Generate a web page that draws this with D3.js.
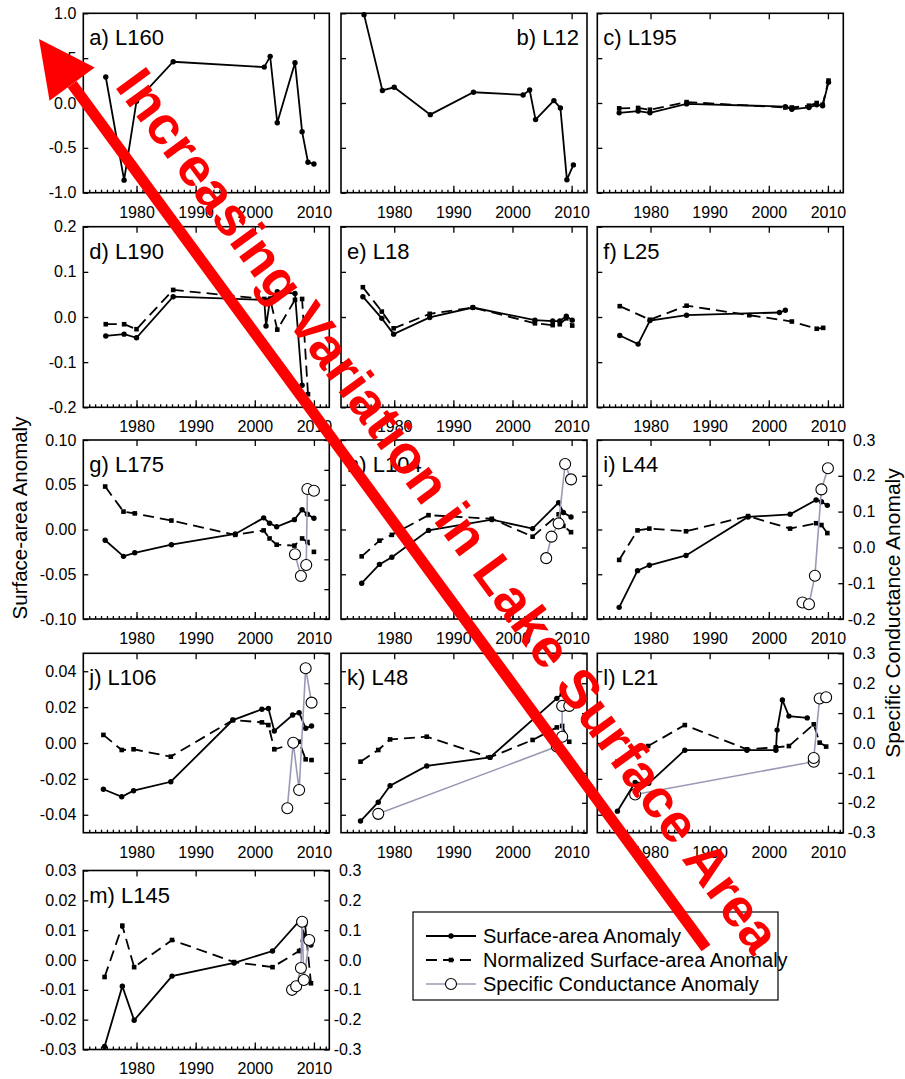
<!DOCTYPE html>
<html>
<head>
<meta charset="utf-8">
<script src="https://cdn.jsdelivr.net/npm/d3@7"></script>
<style>
  body { margin: 0; background: #fff; }
  text { font-family: "Liberation Sans", Arial, sans-serif; }
</style>
</head>
<body>
<div id="chart"></div>
<script>
// ---- data ----
const xTicks = [1980, 1990, 2000, 2010];

// a) L160
const aYears = [1974.8, 1977.9, 1980.0, 1986.2, 2001.6, 2002.6, 2003.8, 2006.8, 2008.0, 2009.0, 2010.0];
const aArea  = [0.29, -0.86, 0.02, 0.46, 0.40, 0.52, -0.22, 0.45, -0.32, -0.66, -0.68];
// b) L12
const bYears = [1974.9, 1978.0, 1980.0, 1986.1, 1993.4, 2001.8, 2002.9, 2003.9, 2007.0, 2008.1, 2009.2, 2010.3];
const bArea  = [0.985, 0.14, 0.175, -0.13, 0.12, 0.09, 0.145, -0.185, 0.027, -0.055, -0.855, -0.69];
// c) L195
const cYears = [1974.7, 1977.9, 1979.9, 1986.1, 2002.8, 2003.9, 2006.8, 2008.1, 2009.1, 2010.1];
const cArea  = [-0.11, -0.09, -0.11, -0.01, -0.04, -0.07, -0.05, -0.02, -0.03, 0.23];
const cNorm  = [-0.06, -0.055, -0.075, 0.01, -0.05, -0.05, -0.03, 0.0, -0.02, 0.25];
// d) L190
const dAreaYears = [1974.8, 1977.9, 1980.0, 1986.2, 2001.6, 2001.9, 2002.6, 2003.8, 2006.8, 2008.0];
const dArea      = [-0.042, -0.038, -0.046, 0.045, 0.038, -0.02, 0.04, 0.056, 0.052, -0.151];
const dNormYears = [1974.8, 1977.9, 1980.0, 1986.2, 2001.6, 2002.6, 2003.8, 2006.8, 2008.0, 2009.0];
const dNorm      = [-0.016, -0.016, -0.027, 0.06, 0.04, 0.04, -0.028, 0.038, 0.04, -0.171];
// e) L18
const eYears = [1974.7, 1977.9, 1979.9, 1986.0, 1993.3, 2003.8, 2006.8, 2008.0, 2009.1, 2010.1];
const eArea  = [0.045, -0.003, -0.038, -0.001, 0.021, -0.007, -0.009, -0.009, 0.002, -0.007];
const eNorm  = [0.066, 0.012, -0.025, 0.007, 0.021, -0.014, -0.018, -0.016, -0.003, -0.019];
// f) L25
const fAreaYears = [1974.8, 1977.9, 1979.9, 1986.1, 2001.8, 2002.8];
const fArea      = [-0.041, -0.06, -0.008, 0.004, 0.010, 0.015];
const fNormYears = [1974.8, 1979.9, 1986.1, 1996.7, 2003.9, 2008.1, 2009.2];
const fNorm      = [0.024, -0.006, 0.025, 0.004, -0.01, -0.026, -0.024];
// g) L175
const gYears = [1974.7, 1977.8, 1979.7, 1985.9, 1996.7, 2001.5, 2002.5, 2003.7, 2006.7, 2008.0, 2008.9, 2010.0];
const gArea  = [-0.012, -0.030, -0.026, -0.017, -0.005, 0.013, 0.007, 0.003, 0.011, 0.022, 0.017, 0.0125];
const gNorm  = [0.048, 0.020, 0.018, 0.010, -0.006, -0.001, -0.010, -0.017, -0.018, -0.010, -0.014, -0.025];
const gCondYears = [2006.8, 2007.8, 2008.7, 2008.9, 2010.0];
const gCond      = [-0.083, -0.156, -0.119, 0.136, 0.13];
// h) L104
const hYears = [1974.5, 1977.5, 1979.6, 1985.8, 1996.5, 2003.4, 2007.8, 2008.6, 2009.9];
const hArea  = [-0.060, -0.039, -0.031, -0.001, 0.011, 0.001, 0.030, 0.019, 0.014];
const hNorm  = [-0.030, -0.0125, -0.006, 0.016, 0.012, -0.008, 0.017, 0.004, -0.003];
const hCondYears = [2005.7, 2006.6, 2007.8, 2008.9, 2009.9];
const hCond      = [-0.030, 0.030, 0.067, 0.233, 0.19];
// i) L44
const iYears = [1974.7, 1977.8, 1979.8, 1986.0, 1996.5, 2003.6, 2008.0, 2008.9, 2009.9];
const iArea  = [-0.087, -0.046, -0.040, -0.029, 0.014, 0.017, 0.033, 0.031, 0.027];
const iNorm  = [-0.034, -0.001, 0.001, -0.002, 0.015, 0.001, 0.007, 0.005, -0.004];
const iCondYears = [2005.7, 2006.8, 2007.8, 2008.9, 2010.0];
const iCond      = [-0.154, -0.159, -0.079, 0.162, 0.221];
// j) L106
const jYears = [1974.4, 1977.5, 1979.5, 1985.8, 1996.3, 2001.2, 2002.3, 2003.3, 2006.4, 2007.5, 2008.6, 2009.6];
const jArea  = [-0.0258, -0.030, -0.0266, -0.0216, 0.0128, 0.0188, 0.0193, 0.0067, 0.0156, 0.0169, 0.0082, 0.0095];
const jNorm  = [0.0045, -0.0039, -0.0035, -0.0076, 0.0128, 0.0115, 0.010, -0.0035, -0.0006, 0.0007, -0.0091, -0.0095];
const jCondYears = [2005.5, 2006.5, 2007.5, 2008.6, 2009.6];
const jCond      = [-0.218, 0.001, -0.157, 0.25, 0.135];
// k) L48
const kAreaYears = [1974.3, 1977.3, 1979.3, 1985.5, 1996.2, 2007.5, 2008.4];
const kArea      = [-0.0435, -0.033, -0.0238, -0.0128, -0.008, 0.0249, 0.0273];
const kNormYears = [1974.3, 1977.3, 1979.3, 1985.5, 1996.2, 2003.4, 2007.5, 2008.4, 2009.6];
const kNorm      = [-0.0104, -0.0039, 0.002, 0.0035, -0.008, 0.0017, 0.0087, 0.0095, 0.0007];
const kCondYears = [1977.3, 2007.5, 2008.4, 2008.4, 2009.6];
const kCond      = [-0.237, -0.012, 0.021, 0.124, 0.124];
// l) L21
const lAreaYears = [1974.4, 1977.4, 1979.7, 1985.8, 1996.3, 2001.2, 2001.4, 2002.3, 2003.4, 2006.5];
const lArea      = [-0.038, -0.022, -0.0225, -0.004, -0.004, -0.004, 0.0072, 0.024, 0.015, 0.014];
const lNormYears = [1974.4, 1979.6, 1985.8, 1996.3, 2001.2, 2003.4, 2007.6, 2008.6, 2009.7];
const lNorm      = [-0.0104, -0.0017, 0.010, -0.0035, -0.0024, -0.0017, 0.0104, 0.0002, -0.002];
const lCondYears = [1977.4, 2007.6, 2007.6, 2008.6, 2009.7];
const lCond      = [-0.172, -0.0625, -0.05, 0.149, 0.153];
// m) L145
const mYears = [1974.6, 1977.6, 1979.6, 1986.0, 1996.5, 2003.0, 2007.5, 2008.5, 2009.5];
const mArea  = [-0.029, -0.0088, -0.0202, -0.0054, -0.001, 0.003, 0.013, 0.008, 0.005];
const mNorm  = [-0.0057, 0.0115, -0.0024, 0.0067, -0.0007, -0.0024, 0.003, 0.012, -0.0078];
const mCondYears = [2006.3, 2007.0, 2007.8, 2008.0, 2008.3, 2009.2];
const mCond      = [-0.10, -0.088, -0.027, 0.128, -0.067, 0.067];

const legendLabels = ["Surface-area Anomaly", "Normalized Surface-area Anomaly", "Specific Conductance Anomaly"];
const arrowText = "Increasing Variation in Lake Surface Area";

// ---- layout ----
const W = 905, H = 1079;
const colLeft = [83.3, 341, 597.3];
const panelW = 246;
const rows = [
  {top: 13.3,  bottom: 192.7,  dom: [-1, 1],       ticks: [-1, -0.5, 0, 0.5, 1],             dec: 1},
  {top: 226.7, bottom: 407.3,  dom: [-0.2, 0.2],   ticks: [-0.2, -0.1, 0, 0.1, 0.2],         dec: 1},
  {top: 440,   bottom: 619,    dom: [-0.1, 0.1],   ticks: [-0.1, -0.05, 0, 0.05, 0.1],       dec: 2},
  {top: 653.3, bottom: 832.7,  dom: [-0.05, 0.05], ticks: [-0.04, -0.02, 0, 0.02, 0.04],     dec: 2},
  {top: 870.5, bottom: 1049.5, dom: [-0.03, 0.03], ticks: [-0.03, -0.02, -0.01, 0, 0.01, 0.02, 0.03], dec: 2}
];
const condFull = {dom: [-0.3, 0.3], ticks: [-0.3, -0.2, -0.1, 0, 0.1, 0.2, 0.3]};
const condRow3 = {dom: [-0.2, 0.3], ticks: [-0.2, -0.1, 0, 0.1, 0.2, 0.3]};

const panels = [
  {label: "a) L160", row: 0, col: 0, leftLabels: true, area: [aYears, aArea]},
  {label: "b) L12",  row: 0, col: 1, labelRight: true, area: [bYears, bArea]},
  {label: "c) L195", row: 0, col: 2, area: [cYears, cArea], norm: [cYears, cNorm]},
  {label: "d) L190", row: 1, col: 0, leftLabels: true, area: [dAreaYears, dArea], norm: [dNormYears, dNorm]},
  {label: "e) L18",  row: 1, col: 1, area: [eYears, eArea], norm: [eYears, eNorm]},
  {label: "f) L25",  row: 1, col: 2, area: [fAreaYears, fArea], norm: [fNormYears, fNorm]},
  {label: "g) L175", row: 2, col: 0, leftLabels: true, area: [gYears, gArea], norm: [gYears, gNorm], cond: [gCondYears, gCond], condAxis: condFull},
  {label: "h) L104", row: 2, col: 1, area: [hYears, hArea], norm: [hYears, hNorm], cond: [hCondYears, hCond], condAxis: condRow3},
  {label: "i) L44",  row: 2, col: 2, area: [iYears, iArea], norm: [iYears, iNorm], cond: [iCondYears, iCond], condAxis: condRow3, rightLabels: true},
  {label: "j) L106", row: 3, col: 0, leftLabels: true, area: [jYears, jArea], norm: [jYears, jNorm], cond: [jCondYears, jCond], condAxis: condFull},
  {label: "k) L48",  row: 3, col: 1, area: [kAreaYears, kArea], norm: [kNormYears, kNorm], cond: [kCondYears, kCond], condAxis: condFull},
  {label: "l) L21",  row: 3, col: 2, area: [lAreaYears, lArea], norm: [lNormYears, lNorm], cond: [lCondYears, lCond], condAxis: condFull, rightLabels: true},
  {label: "m) L145", row: 4, col: 0, leftLabels: true, area: [mYears, mArea], norm: [mYears, mNorm], cond: [mCondYears, mCond], condAxis: condFull, rightLabels: true}
];

const condColor = "#9a9ab6";

const svg = d3.select("#chart").append("svg")
  .attr("width", W).attr("height", H)
  .style("background", "#fff");

function fmt(dec) {
  return v => d3.format("." + dec + "f")(v).replace("\u2212", "-");
}

function drawPanel(p) {
  const r = rows[p.row];
  const left = colLeft[p.col];
  const x = d3.scaleLinear().domain([1971, 2012.6]).range([left, left + panelW]);
  const y = d3.scaleLinear().domain(r.dom).range([r.bottom, r.top]);
  const g = svg.append("g");

  // bottom: major ticks with labels, minor ticks every year
  const bottom = g.append("g").attr("transform", "translate(0," + r.bottom + ")");
  bottom.call(d3.axisBottom(x).tickValues(d3.range(1972, 2013)).tickSize(-3).tickFormat(""));
  bottom.append("g").call(d3.axisBottom(x).tickValues(xTicks).tickSize(-7).tickPadding(13.5).tickFormat(d3.format("d")));
  // top: major ticks only
  g.append("g").attr("transform", "translate(0," + r.top + ")")
    .call(d3.axisTop(x).tickValues(xTicks).tickSize(-6).tickFormat(""));
  // left
  g.append("g").attr("transform", "translate(" + left + ",0)")
    .call(d3.axisLeft(y).tickValues(r.ticks).tickSize(-5).tickPadding(7)
      .tickFormat(p.leftLabels ? fmt(r.dec) : ""));

  let y2 = null;
  if (p.condAxis) {
    y2 = d3.scaleLinear().domain(p.condAxis.dom).range([r.bottom, r.top]);
    const ra = g.append("g").attr("transform", "translate(" + (left + panelW) + ",0)")
      .call(d3.axisRight(y2).tickValues(p.condAxis.ticks).tickSize(-5).tickPadding(7)
        .tickFormat(p.rightLabels ? fmt(1) : ""));
    ra.selectAll("text").attr("text-anchor", "end").attr("x", 32);
  }

  g.selectAll(".domain").remove();
  g.selectAll(".tick line").attr("stroke", "#000").attr("stroke-width", 1.3);
  g.selectAll(".tick text").attr("fill", "#000").style("font-size", "16px");

  // frame
  g.append("rect")
    .attr("x", left).attr("y", r.top)
    .attr("width", panelW).attr("height", r.bottom - r.top)
    .attr("fill", "none").attr("stroke", "#000").attr("stroke-width", 1.6);

  const line = d3.line().x(d => x(d[0])).y(d => y(d[1]));

  if (p.norm) {
    const pts = d3.zip(p.norm[0], p.norm[1]);
    g.append("path").datum(pts).attr("d", line)
      .attr("fill", "none").attr("stroke", "#000").attr("stroke-width", 1.8)
      .attr("stroke-dasharray", "11,6");
    g.selectAll(null).data(pts).enter().append("rect")
      .attr("x", d => x(d[0]) - 2.3).attr("y", d => y(d[1]) - 2.3)
      .attr("width", 4.6).attr("height", 4.6).attr("fill", "#000");
  }
  if (p.area) {
    const pts = d3.zip(p.area[0], p.area[1]);
    g.append("path").datum(pts).attr("d", line)
      .attr("fill", "none").attr("stroke", "#000").attr("stroke-width", 1.8);
    g.selectAll(null).data(pts).enter().append("circle")
      .attr("cx", d => x(d[0])).attr("cy", d => y(d[1])).attr("r", 2.7).attr("fill", "#000");
  }
  if (p.cond) {
    const pts = d3.zip(p.cond[0], p.cond[1]);
    const line2 = d3.line().x(d => x(d[0])).y(d => y2(d[1]));
    g.append("path").datum(pts).attr("d", line2)
      .attr("fill", "none").attr("stroke", condColor).attr("stroke-width", 1.6);
    g.selectAll(null).data(pts).enter().append("circle")
      .attr("cx", d => x(d[0])).attr("cy", d => y2(d[1])).attr("r", 5.5)
      .attr("fill", "#fff").attr("stroke", "#000").attr("stroke-width", 1.1);
  }

  // panel label
  g.append("text")
    .attr("x", p.labelRight ? left + panelW - 8 : left + 6)
    .attr("y", r.top + 32)
    .attr("text-anchor", p.labelRight ? "end" : "start")
    .style("font-size", "22px")
    .text(p.label);
}

panels.forEach(drawPanel);

// axis titles
svg.append("text")
  .attr("transform", "translate(27,518) rotate(-90)")
  .attr("text-anchor", "middle")
  .style("font-size", "20.5px")
  .text("Surface-area Anomaly");
svg.append("text")
  .attr("transform", "translate(900,613) rotate(-90)")
  .attr("text-anchor", "middle")
  .style("font-size", "21px")
  .text("Specific Conductance Anomaly");

// legend
const lg = svg.append("g").attr("transform", "translate(413,912)");
lg.append("rect").attr("width", 365).attr("height", 88)
  .attr("fill", "#fff").attr("stroke", "#000").attr("stroke-width", 1.2);
legendLabels.forEach((lab, i) => {
  const ly = 24 + i * 24;
  const row = lg.append("g").attr("transform", "translate(0," + ly + ")");
  if (i === 0) {
    row.append("line").attr("x1", 13).attr("x2", 63).attr("stroke", "#000").attr("stroke-width", 1.8);
    row.append("circle").attr("cx", 38).attr("r", 2.7).attr("fill", "#000");
  } else if (i === 1) {
    row.append("line").attr("x1", 13).attr("x2", 63).attr("stroke", "#000").attr("stroke-width", 1.8)
      .attr("stroke-dasharray", "11,6");
    row.append("rect").attr("x", 35.7).attr("y", -2.3).attr("width", 4.6).attr("height", 4.6).attr("fill", "#000");
  } else {
    row.append("line").attr("x1", 13).attr("x2", 63).attr("stroke", condColor).attr("stroke-width", 1.6);
    row.append("circle").attr("cx", 38).attr("r", 5.5).attr("fill", "#fff").attr("stroke", "#000").attr("stroke-width", 1.1);
  }
  row.append("text").attr("x", 70).attr("y", 7).style("font-size", "20px").text(lab);
});

// red annotation arrow
const tip = [39, 39], tail = [706, 948];
const ang = Math.atan2(tail[1] - tip[1], tail[0] - tip[0]);
const ux = Math.cos(ang), uy = Math.sin(ang);
const headLen = 56, headHalf = 28;
const base = [tip[0] + ux * headLen, tip[1] + uy * headLen];
svg.append("line")
  .attr("x1", base[0]).attr("y1", base[1]).attr("x2", tail[0]).attr("y2", tail[1])
  .attr("stroke", "#ff0000").attr("stroke-width", 11);
svg.append("polygon")
  .attr("points", [
    tip,
    [base[0] - uy * headHalf, base[1] + ux * headHalf],
    [base[0] + uy * headHalf, base[1] - ux * headHalf]
  ].map(p => p.join(",")).join(" "))
  .attr("fill", "#ff0000");
svg.append("text")
  .attr("transform", "translate(114,86) rotate(" + (ang * 180 / Math.PI) + ")")
  .attr("textLength", 1080).attr("lengthAdjust", "spacing")
  .style("font-size", "54px").style("font-weight", "bold")
  .attr("fill", "#ff0000")
  .text(arrowText);
</script>
</body>
</html>
